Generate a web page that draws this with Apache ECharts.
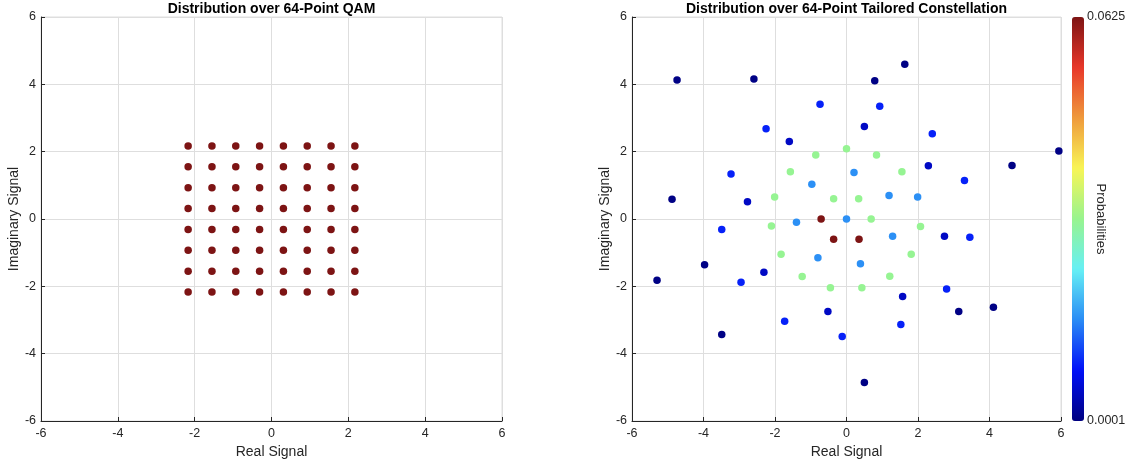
<!DOCTYPE html>
<html>
<head>
<meta charset="utf-8">
<title>Constellation distributions</title>
<script src="https://cdn.jsdelivr.net/npm/echarts@6/dist/echarts.min.js"></script>
<style>
  html, body { margin: 0; padding: 0; background: #ffffff; }
  #chart { width: 1131px; height: 466px; }
</style>
</head>
<body>
<div id="chart"></div>
<script>
// ---- data ----
// 64-QAM amplitude levels (same on both axes)
const qamLevelsI = [-2.17, -1.55, -0.93, -0.31, 0.31, 0.93, 1.55, 2.17];
const qamLevelsQ = [-2.17, -1.55, -0.93, -0.31, 0.31, 0.93, 1.55, 2.17];
const qamProbability = 1 / 64;

// tailored constellation: real part, imaginary part, probability of each point
const tailoredReal = [
  -0.71, -0.36, 0.35,
  -0.86, 0.00, 0.84, -1.57, 1.55, -2.01, -0.36, 0.34, 0.69, -2.10, 2.07, -1.83, 1.81, -1.24, 1.21, -0.45, 0.43,
  -0.97, 0.21, 0.00, -1.40, 1.19, 1.99, -0.80, 0.39, 1.29,
  -0.74, -2.25, -3.23, -3.49, 0.93, 2.40, 3.30, -2.95, -1.73, -0.12, 3.45, 2.80, 1.52,
  0.50, -1.60, -2.77, 2.29, -2.31, -0.52, 2.74, 1.57,
  -4.74, -2.59, 0.79, 1.63, -4.88, 5.94, 4.63, -3.97, -5.30, -3.49, 0.50, 3.14, 4.11
];
const tailoredImag = [
  0.00, -0.60, -0.60,
  1.90, 2.09, 1.90, 1.40, 1.40, 0.65, 0.60, 0.60, 0.00, -0.21, -0.22, -1.05, -1.05, -1.71, -1.70, -2.04, -2.04,
  1.03, 1.38, 0.00, -0.10, 0.70, 0.65, -1.15, -1.33, -0.51,
  3.41, 2.68, 1.34, -0.31, 3.35, 2.53, 1.14, -1.88, -3.04, -3.49, -0.54, -2.08, -3.13,
  2.75, 2.30, 0.51, 1.58, -1.58, -2.75, -0.51, -2.30,
  4.13, 4.16, 4.11, 4.60, 0.59, 2.02, 1.59, -1.36, -1.82, -3.43, -4.86, -2.75, -2.62
];
const tailoredProb = [
  0.0625, 0.0625, 0.0625,
  0.0310, 0.0310, 0.0310, 0.0310, 0.0310, 0.0310, 0.0310, 0.0310, 0.0310, 0.0310, 0.0310, 0.0310, 0.0310, 0.0310, 0.0310, 0.0310, 0.0310,
  0.0160, 0.0160, 0.0160, 0.0160, 0.0160, 0.0160, 0.0160, 0.0160, 0.0160,
  0.0090, 0.0090, 0.0090, 0.0090, 0.0090, 0.0090, 0.0090, 0.0090, 0.0090, 0.0090, 0.0090, 0.0090, 0.0090,
  0.0045, 0.0045, 0.0045, 0.0045, 0.0045, 0.0045, 0.0045, 0.0045,
  0.0004, 0.0004, 0.0004, 0.0004, 0.0004, 0.0004, 0.0004, 0.0004, 0.0004, 0.0004, 0.0004, 0.0004, 0.0004
];

// axis settings
const axisMin = -6;
const axisMax = 6;
const axisStep = 2;
const probMin = 0.0001;
const probMax = 0.0625;

// jet-style colour ramp for the probability scale
const jetColors = ['#000080', '#0010f8', '#2a8cf5', '#66f0f5', '#98f48f', '#f8f556', '#ef9a3c', '#e8372a', '#7d1414'];

// ---- build series data ----
const qamData = [];
qamLevelsI.forEach(function (re) {
  qamLevelsQ.forEach(function (im) { qamData.push([re, im, qamProbability]); });
});
const tailoredData = tailoredReal.map(function (re, i) {
  return [re, tailoredImag[i], tailoredProb[i]];
});

// ---- styling ----
const fontFamily = 'Helvetica, "Liberation Sans", Arial, sans-serif';
const axisColor = '#262626';
const gridColor = '#dedede';

function valueAxis(gridIndex, name, isY) {
  return {
    type: 'value',
    gridIndex: gridIndex,
    min: axisMin,
    max: axisMax,
    interval: axisStep,
    name: name,
    nameLocation: 'middle',
    nameGap: isY ? 20 : 22,
    nameTextStyle: { fontFamily: fontFamily, fontSize: 14, color: axisColor },
    axisLine: { show: true, onZero: false, lineStyle: { color: axisColor, width: 1 } },
    axisTick: { show: true, inside: true, length: 4, lineStyle: { color: axisColor } },
    axisLabel: { fontFamily: fontFamily, fontSize: 12.5, color: axisColor, margin: isY ? 5 : 6 },
    splitLine: { show: true, lineStyle: { color: gridColor, width: 1 } }
  };
}

const gridTop = 17;
const gridHeight = 404;

const option = {
  animation: false,
  backgroundColor: '#ffffff',
  title: [
    {
      text: 'Distribution over 64-Point QAM',
      left: 271.5, top: 0, textAlign: 'center', padding: [2, 0, 0, 0],
      textStyle: { fontFamily: fontFamily, fontSize: 14, fontWeight: 'bold', color: '#000' }
    },
    {
      text: 'Distribution over 64-Point Tailored Constellation',
      left: 846.5, top: 0, textAlign: 'center', padding: [2, 0, 0, 0],
      textStyle: { fontFamily: fontFamily, fontSize: 14, fontWeight: 'bold', color: '#000' }
    }
  ],
  grid: [
    { left: 41, top: gridTop, width: 461, height: gridHeight, show: true, borderColor: gridColor, borderWidth: 1, outerBoundsMode: 'none' },
    { left: 632, top: gridTop, width: 429, height: gridHeight, show: true, borderColor: gridColor, borderWidth: 1, outerBoundsMode: 'none' },
    { left: 1072, top: gridTop, width: 12, height: gridHeight, show: false, outerBoundsMode: 'none' }
  ],
  xAxis: [
    valueAxis(0, 'Real Signal', false),
    valueAxis(1, 'Real Signal', false),
    { type: 'value', gridIndex: 2, show: false, min: 0, max: 1 }
  ],
  yAxis: [
    valueAxis(0, 'Imaginary Signal', true),
    valueAxis(1, 'Imaginary Signal', true),
    {
      type: 'value',
      gridIndex: 2,
      position: 'right',
      min: probMin,
      max: probMax,
      name: 'Probabilities',
      nameLocation: 'middle',
      nameRotate: -90,
      nameGap: 10,
      nameMoveOverlap: false,
      nameTextStyle: { fontFamily: fontFamily, fontSize: 13, color: axisColor },
      axisLine: { show: false },
      axisTick: { show: false },
      splitLine: { show: false },
      axisLabel: {
        customValues: [probMin, probMax],
        formatter: function (v) { return v.toFixed(4); },
        fontFamily: fontFamily, fontSize: 12.5, color: axisColor, margin: 3
      }
    }
  ],
  visualMap: {
    type: 'continuous',
    seriesIndex: 1,
    dimension: 2,
    min: probMin,
    max: probMax,
    orient: 'vertical',
    left: 1072,
    top: gridTop,
    itemWidth: 12,
    itemHeight: gridHeight,
    padding: 0,
    calculable: false,
    hoverLink: false,
    inRange: { color: jetColors }
  },
  series: [
    {
      type: 'scatter',
      xAxisIndex: 0,
      yAxisIndex: 0,
      symbolSize: 7.5,
      itemStyle: { color: '#7d1414', opacity: 1 },
      data: qamData
    },
    {
      type: 'scatter',
      xAxisIndex: 1,
      yAxisIndex: 1,
      symbolSize: 7.5,
      itemStyle: { opacity: 1 },
      data: tailoredData
    }
  ]
};

const chart = echarts.init(document.getElementById('chart'), null, { renderer: 'canvas' });
chart.setOption(option);
</script>
</body>
</html>
